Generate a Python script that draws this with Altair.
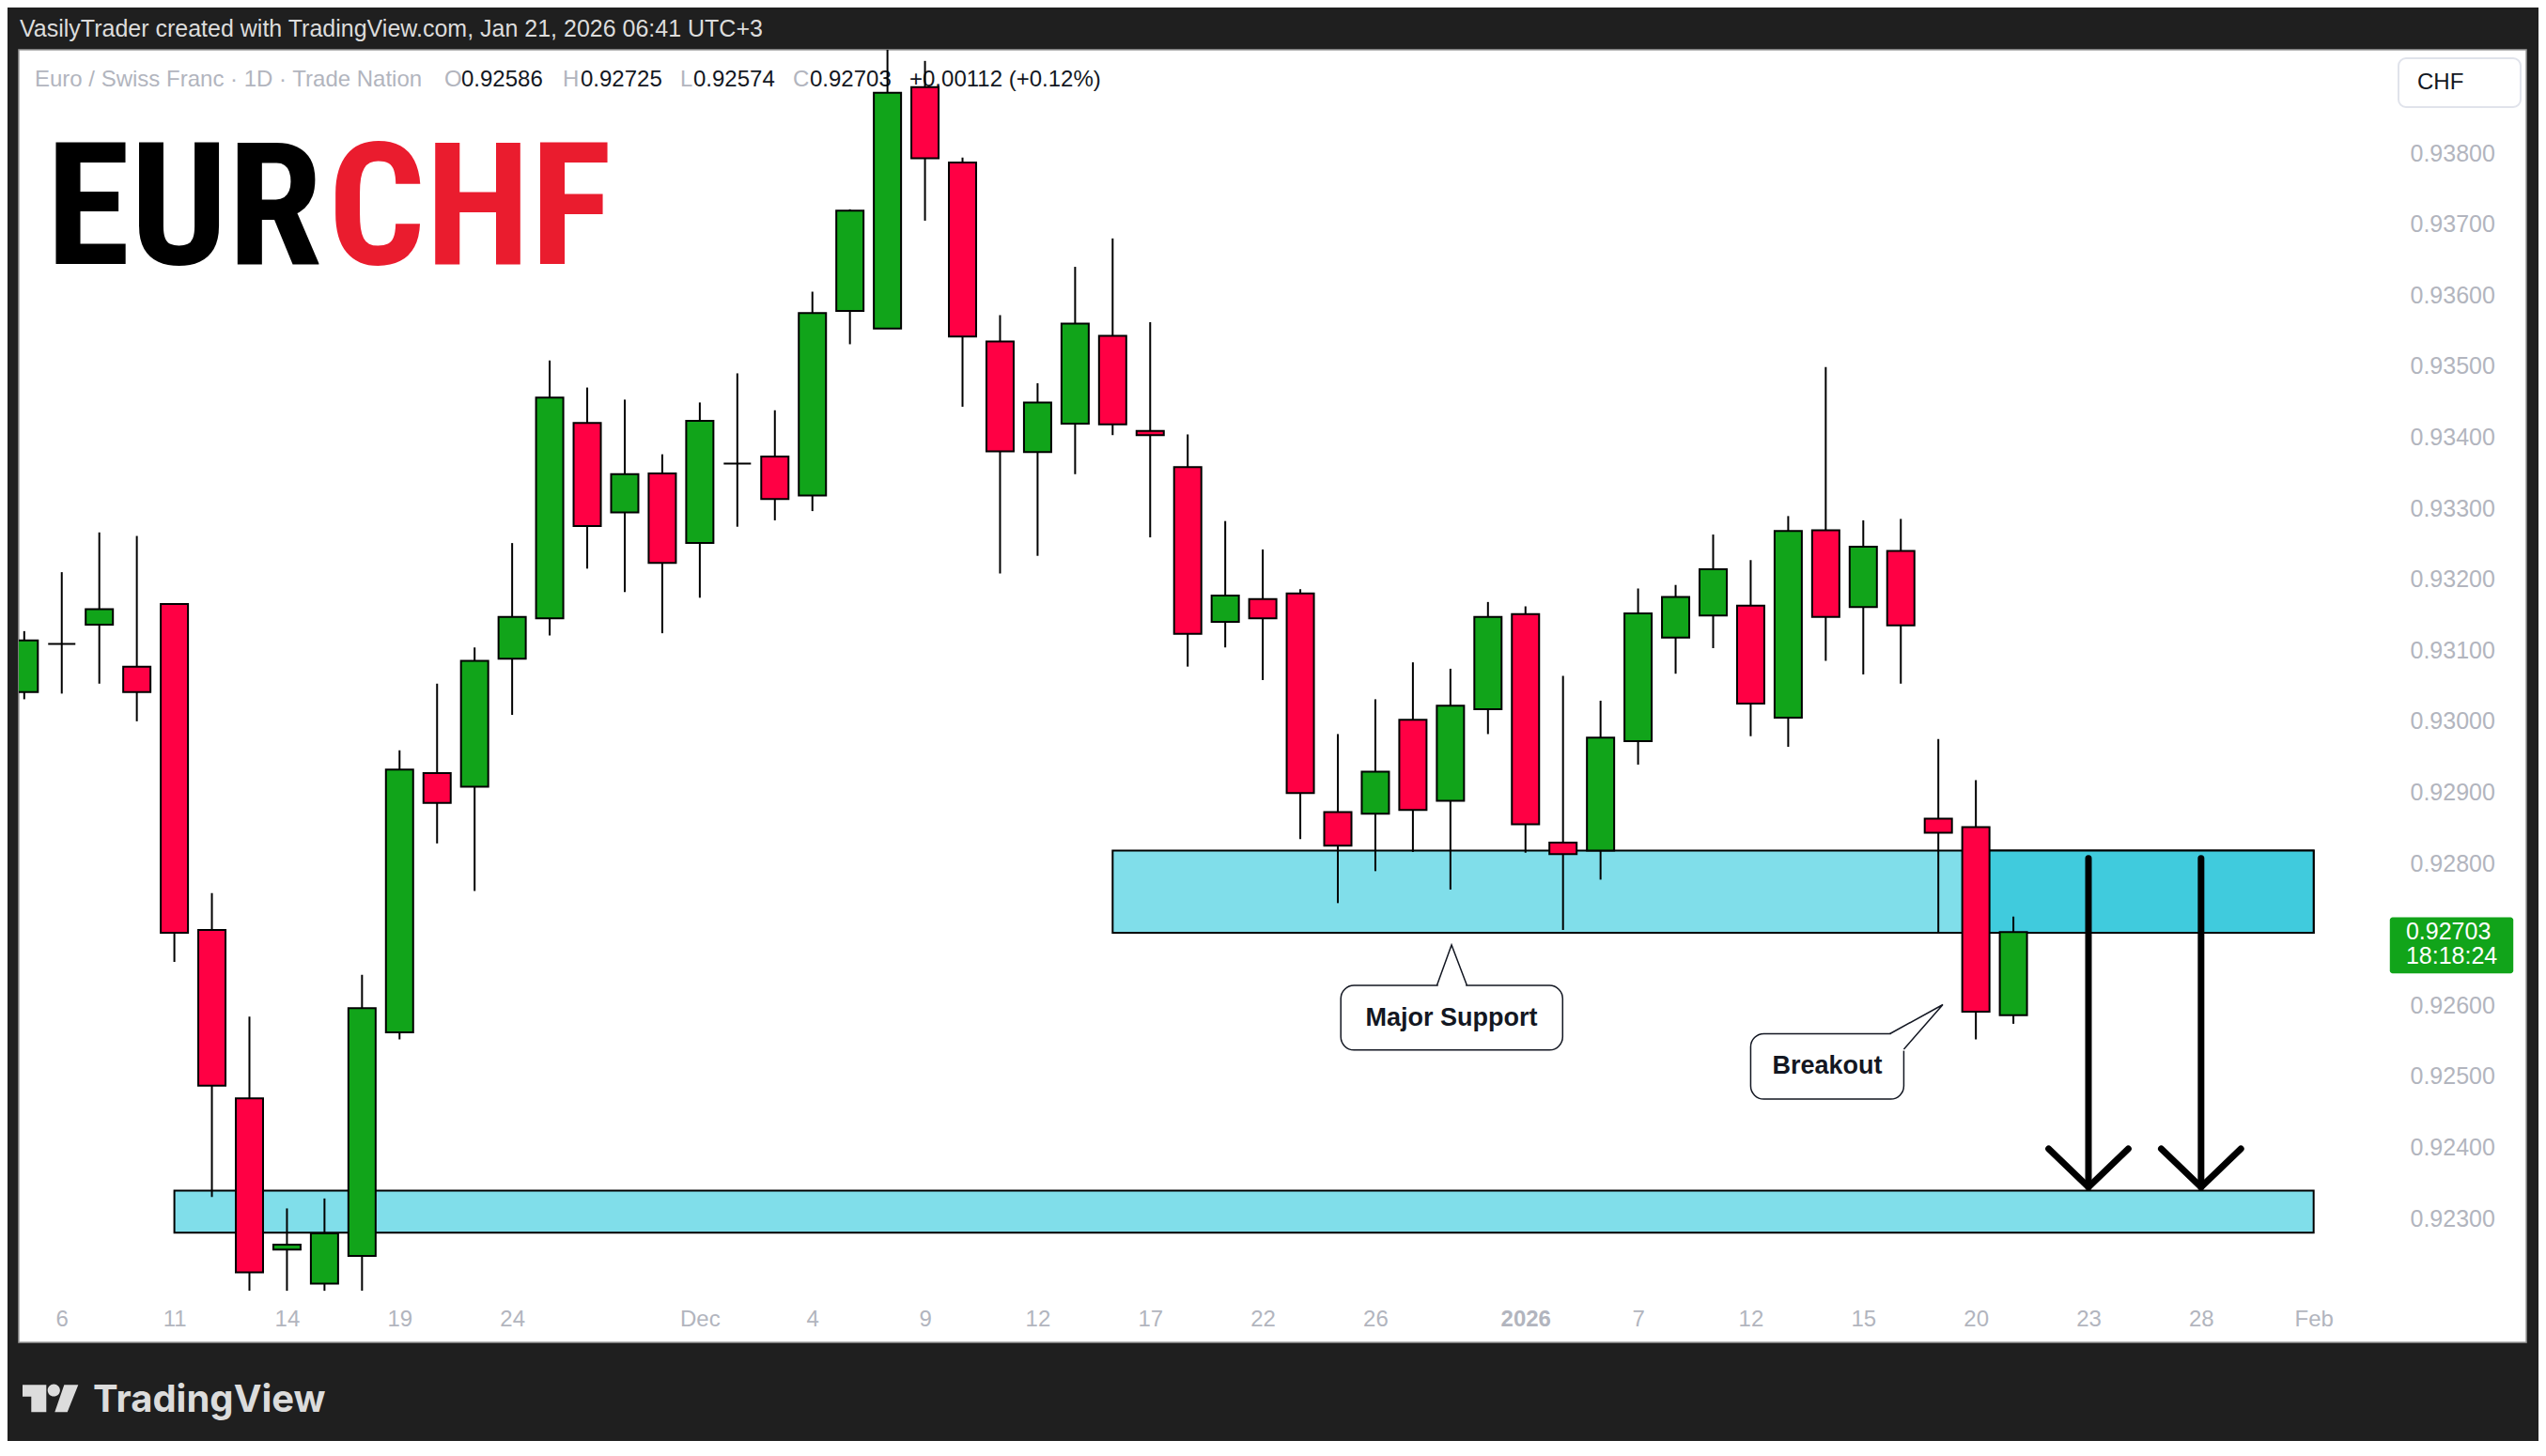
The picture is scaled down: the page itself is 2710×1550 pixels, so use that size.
import altair as alt
import pandas as pd

# ---------------- data ----------------
# trading-day index, 0 = Thu 6 Nov 2025 ... 52 = Wed 21 Jan 2026
bar_idx = list(range(-1, 53))
opens = [0.93041, 0.93109, 0.93136, 0.93077, 0.93165, 0.92706, 0.92469, 0.92256, 0.92208, 0.92247,
         0.92562, 0.92927, 0.92908, 0.93088, 0.93145, 0.93420, 0.93294, 0.93349, 0.93251, 0.93363,
         0.93373, 0.93318, 0.93578, 0.93553, 0.93893, 0.93787, 0.93535, 0.93379, 0.93419, 0.93543,
         0.93409, 0.93358, 0.93140, 0.93172, 0.93180, 0.92872, 0.92870, 0.93002, 0.92888, 0.93017,
         0.93151, 0.92829, 0.92818, 0.92972, 0.93118, 0.93149, 0.93163, 0.93005, 0.93269, 0.93161,
         0.93240, 0.92863, 0.92851, 0.92586]
highs = [0.93127, 0.93210, 0.93266, 0.93261, 0.93166, 0.92758, 0.92584, 0.92314, 0.92328, 0.92643,
         0.92959, 0.93053, 0.93104, 0.93251, 0.93508, 0.93470, 0.93453, 0.93376, 0.93449, 0.93490,
         0.93438, 0.93605, 0.93721, 0.93946, 0.93930, 0.93794, 0.93572, 0.93476, 0.93640, 0.93680,
         0.93562, 0.93404, 0.93282, 0.93242, 0.93186, 0.92982, 0.93031, 0.93083, 0.93074, 0.93168,
         0.93162, 0.93064, 0.93029, 0.93187, 0.93192, 0.93263, 0.93227, 0.93289, 0.93499, 0.93283,
         0.93285, 0.92975, 0.92917, 0.92725]
lows = [0.93031, 0.93039, 0.93053, 0.93000, 0.92661, 0.92330, 0.92198, 0.92198, 0.92198, 0.92198,
        0.92552, 0.92828, 0.92761, 0.93009, 0.93121, 0.93215, 0.93182, 0.93124, 0.93174, 0.93274,
        0.93283, 0.93296, 0.93531, 0.93553, 0.93705, 0.93443, 0.93208, 0.93233, 0.93348, 0.93403,
        0.93259, 0.93077, 0.93104, 0.93058, 0.92834, 0.92744, 0.92789, 0.92816, 0.92763, 0.92982,
        0.92815, 0.92706, 0.92777, 0.92939, 0.93067, 0.93103, 0.92979, 0.92964, 0.93085, 0.93066,
        0.93053, 0.92703, 0.92552, 0.92574]
closes = [0.93114, 0.93109, 0.93158, 0.93041, 0.92702, 0.92487, 0.92224, 0.92263, 0.92279, 0.92596,
          0.92932, 0.92885, 0.93085, 0.93147, 0.93456, 0.93275, 0.93348, 0.93223, 0.93423, 0.93363,
          0.93313, 0.93575, 0.93719, 0.93885, 0.93793, 0.93542, 0.93380, 0.93449, 0.93560, 0.93418,
          0.93403, 0.93123, 0.93177, 0.93145, 0.92899, 0.92825, 0.92929, 0.92875, 0.93022, 0.93147,
          0.92855, 0.92813, 0.92977, 0.93152, 0.93175, 0.93214, 0.93025, 0.93268, 0.93147, 0.93246,
          0.93135, 0.92843, 0.92591, 0.92703]

tick_idx = [0, 3, 6, 9, 12, 17, 20, 23, 26, 29, 32, 35, 39, 42, 45, 48, 51, 54, 57, 60]
tick_txt = ['6', '11', '14', '19', '24', 'Dec', '4', '9', '12', '17', '22', '26', '2026',
            '7', '12', '15', '20', '23', '28', 'Feb']
price_ticks = [0.923, 0.924, 0.925, 0.926, 0.928, 0.929, 0.930, 0.931, 0.932, 0.933,
               0.934, 0.935, 0.936, 0.937, 0.938]

# zones (support boxes)
zone_x1 = [3, 28, 51]
zone_x2 = [60, 60, 60]
zone_lo = [0.92280, 0.92702, 0.92702]
zone_hi = [0.92339, 0.92818, 0.92818]
zone_kind = ['light', 'light', 'dark']

# projection arrows
arrow_x = [54, 57]
arrow_top = 0.92807
arrow_tip = 0.92344
arrow_arm_y = 0.92398
arrow_arm_dx = 1.06

# callouts
callout_text = ['Major Support', 'Breakout']
callout_x1 = [34.08, 45.0]
callout_x2 = [39.99, 49.08]
callout_lo = [0.92537, 0.92468]
callout_hi = [0.92628, 0.92560]
callout_tx = [37.03, 47.04]
callout_ty = [0.92582, 0.92514]
ptr_g = ['s', 's', 's', 'b', 'b', 'b']
ptr_o = [0, 1, 2, 0, 1, 2]
ptr_x = [36.64, 37.03, 37.44, 48.71, 50.12, 49.08]
ptr_y = [0.92628, 0.92685, 0.92628, 0.92560, 0.92601, 0.92538]
cover_x1 = [36.67, 48.73]
cover_x2 = [37.41, 49.15]
cover_lo = [0.92625, 0.92536]
cover_hi = [0.92631, 0.92565]

last_open, last_high, last_low, last_close = opens[-1], highs[-1], lows[-1], closes[-1]
prev_close = closes[-2]
countdown = '18:18:24'

# ---------------- style ----------------
GREEN = '#11a41a'
RED = '#ff0044'
ZONE_LIGHT = '#80deea'
ZONE_DARK = '#40cbdd'
UI = 'Liberation Sans'
W, H = 2669, 1376
XS = alt.Scale(domain=[-1.02, 65.54], nice=False, zero=False)
YS = alt.Scale(domain=[0.921254, 0.9394565], nice=False, zero=False)

lbl_expr = ("[" + ",".join("'%s'" % t for t in tick_txt) + "][indexof([" +
            ",".join(str(v) for v in tick_idx) + "], datum.value)]")
X_AXIS = alt.Axis(values=tick_idx, labelExpr=lbl_expr, orient='bottom', offset=-25,
                  domain=False, ticks=False, grid=False, title=None, labelFont=UI,
                  labelFontSize=24, labelColor='#b2b5be', labelBaseline='middle',
                  labelPadding=0, labelFlush=False, labelOverlap=False,
                  labelFontWeight={"condition": {"test": "datum.value == 39", "value": "bold"},
                                   "value": "normal"})
Y_AXIS = alt.Axis(values=price_ticks, format='.5f', orient='right', offset=-124,
                  domain=False, ticks=False, grid=False, title=None, labelFont=UI,
                  labelFontSize=25, labelColor='#b2b5be', labelAlign='left',
                  labelBaseline='middle', labelPadding=0, labelOverlap=False)


def X(f):
    return alt.X(f, type='quantitative', scale=XS, axis=X_AXIS)


def Y(f):
    return alt.Y(f, type='quantitative', scale=YS, axis=Y_AXIS)


ONE = alt.Data(values=[{'k': 0}])


def txt(s, x, y, size, color, weight='normal', align='left', baseline='middle', font=UI, opacity=1.0):
    return alt.Chart(ONE).mark_text(text=s, align=align, baseline=baseline, fontSize=size,
                                    color=color, fontWeight=weight, font=font,
                                    opacity=opacity).encode(x=alt.value(x), y=alt.value(y))


# ---------------- tables ----------------
df = pd.DataFrame({'i': bar_idx, 'open': opens, 'high': highs, 'low': lows, 'close': closes})
df['col'] = [GREEN if c > o else (RED if c < o else 'black') for o, c in zip(opens, closes)]

zones = pd.DataFrame({'x1': zone_x1, 'x2': zone_x2, 'lo': zone_lo, 'hi': zone_hi,
                      'col': [ZONE_LIGHT if k == 'light' else ZONE_DARK for k in zone_kind]})
shafts = pd.DataFrame({'x': arrow_x, 'top': [arrow_top] * len(arrow_x), 'tip': [arrow_tip] * len(arrow_x)})
heads = pd.DataFrame([
    {'a': k, 'o': j, 'x': ax + dx, 'y': yy}
    for k, ax in enumerate(arrow_x)
    for j, (dx, yy) in enumerate([(-arrow_arm_dx, arrow_arm_y), (0, arrow_tip), (arrow_arm_dx, arrow_arm_y)])
])
boxes = pd.DataFrame({'t': callout_text, 'x1': callout_x1, 'x2': callout_x2, 'lo': callout_lo,
                      'hi': callout_hi, 'tx': callout_tx, 'ty': callout_ty})
ptrs = pd.DataFrame({'g': ptr_g, 'o': ptr_o, 'x': ptr_x, 'y': ptr_y})
covers = pd.DataFrame({'x1': cover_x1, 'x2': cover_x2, 'lo': cover_lo, 'hi': cover_hi})
last = pd.DataFrame({'x1': [62.03], 'x2': [65.32], 'lo': [0.926449], 'hi': [0.92724],
                     'tx': [62.46], 'p': [last_close], 'p2': [0.926685],
                     'l1': ['%.5f' % last_close], 'l2': [countdown]})

# ---------------- chrome ----------------
chg = last_close - prev_close
chrome = [
    txt('VasilyTrader created with TradingView.com, Jan 21, 2026 06:41 UTC+3', 1, -22, 25, '#dcdcdc'),
    txt('Euro / Swiss Franc · 1D · Trade Nation', 17, 32, 24, '#b2b5be'),
    txt('O', 453, 32, 24, '#b2b5be'), txt('%.5f' % last_open, 471, 32, 24, '#131722'),
    txt('H', 579, 32, 24, '#b2b5be'), txt('%.5f' % last_high, 598, 32, 24, '#131722'),
    txt('L', 704, 32, 24, '#b2b5be'), txt('%.5f' % last_low, 718, 32, 24, '#131722'),
    txt('C', 824, 32, 24, '#b2b5be'), txt('%.5f' % last_close, 842, 32, 24, '#131722'),
    txt('%+.5f (%+.2f%%)' % (chg, chg / prev_close * 100), 948, 32, 24, '#131722'),
]
LOGO_FONT = "'Roboto Condensed', 'Open Sans Condensed', 'DejaVu Sans Condensed', 'Liberation Sans Narrow', 'Liberation Sans'"
chrome.append(txt('EUR', 323, 228, 182, '#000000', 'bold', 'right', 'alphabetic', LOGO_FONT))
chrome.append(txt('CHF', 329, 228, 182, '#ea1c2e', 'bold', 'left', 'alphabetic', LOGO_FONT))

chf_box = alt.Chart(ONE).mark_rect(fill='white', stroke='#e0e3eb', strokeWidth=2, cornerRadius=8).encode(
    x=alt.value(2533), x2=alt.value(2663), y=alt.value(9), y2=alt.value(61))
chf_txt = txt('CHF', 2553, 35, 24, '#131722')

LOGO = ("M -1 -0.49 L -0.157 -0.49 L -0.157 0.477 L -0.69 0.477 L -0.69 -0.077 L -1 -0.077 Z "
        "M -0.11 -0.3 A 0.22 0.22 0 1 0 0.33 -0.3 A 0.22 0.22 0 1 0 -0.11 -0.3 Z "
        "M 0.477 -0.49 L 0.977 -0.49 L 0.59 0.477 L 0.143 0.477 Z")
footer_logo = alt.Chart(ONE).mark_point(shape=LOGO, size=3600, filled=True, fill='#dcdcdc',
                                         strokeWidth=0, opacity=1).encode(
    x=alt.value(34), y=alt.value(1436))
footer_txt = txt('TradingView', 79, 1450, 40, '#dcdcdc', 'bold', 'left', 'alphabetic', 'Inter')

# ---------------- data layers ----------------
zone_layer = alt.Chart(zones).mark_rect(stroke='black', strokeWidth=2).encode(
    x=X('x1'), x2='x2', y=Y('lo'), y2='hi', fill=alt.Fill('col:N', scale=None))

wicks = alt.Chart(df).mark_rule(color='black', strokeWidth=2, clip=True).encode(
    x=X('i'), y=Y('low'), y2='high')
bodies = alt.Chart(df).mark_bar(size=29, stroke='black', strokeWidth=2, clip=True).encode(
    x=X('i'), y=Y('open'), y2='close', fill=alt.Fill('col:N', scale=None))

shaft_layer = alt.Chart(shafts).mark_rule(color='black', strokeWidth=7, strokeCap='round').encode(
    x=X('x'), y=Y('top'), y2='tip')
head_layer = alt.Chart(heads).mark_line(color='black', strokeWidth=7, strokeCap='round',
                                        strokeJoin='round').encode(
    x=X('x'), y=Y('y'), detail='a:N', order='o:Q')

box_layer = alt.Chart(boxes).mark_rect(fill='white', stroke='#131722', strokeWidth=1.5,
                                       cornerRadius=14).encode(
    x=X('x1'), x2='x2', y=Y('lo'), y2='hi')
cover_layer = alt.Chart(covers).mark_rect(fill='white', strokeWidth=0).encode(
    x=X('x1'), x2='x2', y=Y('lo'), y2='hi')
ptr_layer = alt.Chart(ptrs).mark_line(color='#131722', strokeWidth=1.5).encode(
    x=X('x'), y=Y('y'), detail='g:N', order='o:Q')
box_text = alt.Chart(boxes).mark_text(font=UI, fontSize=27, fontWeight='bold', color='#131722').encode(
    x=X('tx'), y=Y('ty'), text='t:N')

last_box = alt.Chart(last).mark_rect(fill=GREEN, cornerRadius=3).encode(
    x=X('x1'), x2='x2', y=Y('lo'), y2='hi')
last_t1 = alt.Chart(last).mark_text(font=UI, fontSize=25, color='white', align='left').encode(
    x=X('tx'), y=Y('p'), text='l1:N')
last_t2 = alt.Chart(last).mark_text(font=UI, fontSize=25, color='white', align='left').encode(
    x=X('tx'), y=Y('p2'), text='l2:N')

chart = alt.layer(
    *chrome, chf_box, chf_txt, footer_logo, footer_txt,
    zone_layer, wicks, bodies, shaft_layer, head_layer,
    box_layer, cover_layer, ptr_layer, box_text,
    last_box, last_t1, last_t2,
).properties(
    width=W, height=H,
    autosize=alt.AutoSizeParams(type='none'),
    padding={'left': 12, 'top': 45, 'right': 13, 'bottom': 105},
    background='#1f1f1f',
).configure_view(fill='white', stroke='#9a9a9a', strokeWidth=1.5)

chart.save('out.html', embed_options={'renderer': 'svg', 'actions': False})
